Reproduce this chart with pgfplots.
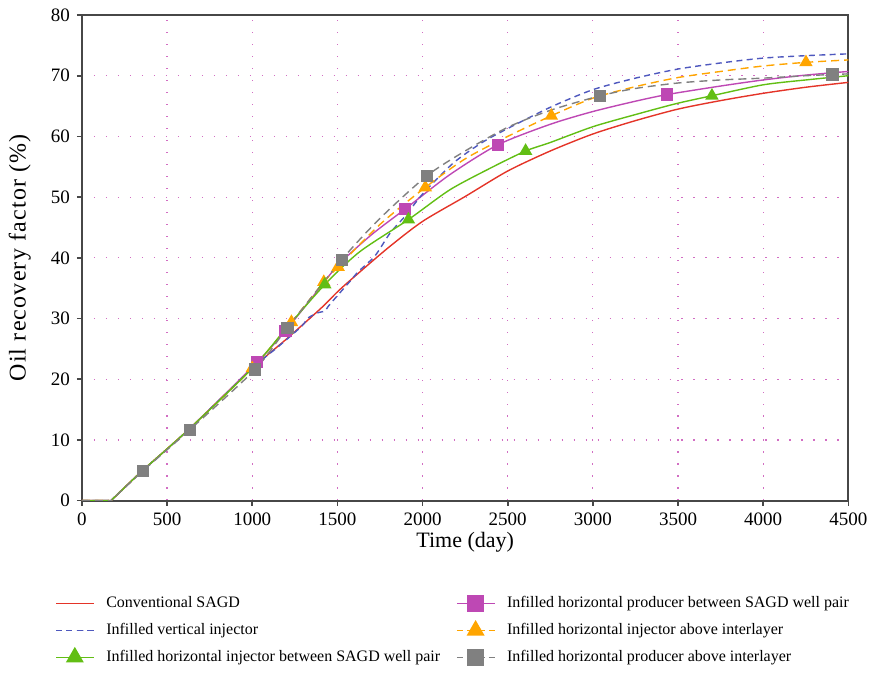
\documentclass[border=0pt]{standalone}
\usepackage{fontspec}
\setmainfont{Liberation Serif}
\usepackage{pgfplots}
\pgfplotsset{compat=1.18}
\definecolor{cred}{RGB}{228,52,40}
\definecolor{cblue}{RGB}{78,88,190}
\definecolor{cgreen}{RGB}{98,190,20}
\definecolor{cpurple}{RGB}{190,72,180}
\definecolor{corange}{RGB}{255,165,0}
\definecolor{cgray}{RGB}{128,128,128}
\definecolor{cgrid}{RGB}{210,110,195}
\begin{document}
\begin{tikzpicture}
\begin{axis}[
  scale only axis, width=383.5pt, height=243pt,
  xmin=0, xmax=4500, ymin=0, ymax=80,
  xtick={0,500,...,4500}, ytick={0,10,...,80},
  /pgf/number format/assume math mode=true,
  /pgf/number format/set thousands separator={},
  tick label style={font=\fontsize{9.5}{11}\selectfont},
  xlabel={Time (day)},
  ylabel={\addfontfeature{LetterSpace=5}Oil recovery factor (\%)},
  xlabel style={font=\fontsize{11}{13}\selectfont, at={(axis description cs:0.5,-0.085)}, anchor=center},
  ylabel style={font=\fontsize{12}{14}\selectfont, at={(axis description cs:-0.081,0.5)}, anchor=center},
  tick align=outside, xtick pos=left, ytick pos=left,
  major tick length=2.5pt,
  axis line style={line width=1pt, black!72},
  every tick/.style={black!72, line width=0.8pt},
  grid=major,
  major grid style={cgrid, line width=0.6pt, dash pattern=on 0.6pt off 5.4pt},
  legend columns=2,
  legend cell align=left,
  legend style={draw=none, fill=none, font=\fontsize{8}{9.5}\selectfont,
    at={(-0.043,-0.18)}, anchor=north west,
    /tikz/every odd column/.append style={column sep=4pt},
    /tikz/every even column/.append style={column sep=6pt},
    row sep=2.3pt},
  legend image code/.code={\draw[mark repeat=2,mark phase=2] plot coordinates {(0cm,0cm)(0.33cm,0cm)(0.66cm,0cm)};},
  every axis plot/.append style={line width=0.7pt, smooth, tension=0.45},
]
\addlegendimage{cred, line width=0.7pt}
\addlegendentry{Conventional SAGD}
\addlegendimage{cpurple, line width=0.7pt, mark=square*, mark size=4pt}
\addlegendentry{Infilled horizontal producer between SAGD well pair}
\addlegendimage{cblue, line width=0.7pt, dash pattern=on 3pt off 2.2pt}
\addlegendentry{Infilled vertical injector}
\addlegendimage{corange, line width=0.7pt, dash pattern=on 3pt off 2.3pt, mark=triangle*, mark size=4.5pt, mark options={solid}}
\addlegendentry{Infilled horizontal injector above interlayer}
\addlegendimage{cgreen, line width=0.7pt, mark=triangle*, mark size=4.5pt}
\addlegendentry{Infilled horizontal injector between SAGD well pair}
\addlegendimage{cgray, line width=0.7pt, dash pattern=on 3pt off 2.3pt, mark=square*, mark size=4pt, mark options={solid}}
\addlegendentry{Infilled horizontal producer above interlayer}
% Conventional SAGD
\addplot[cred, no marks, forget plot] coordinates {
(0,0)(160,0)(170,0)(350,4.8)(630,11.8)(1000,21.8)(1200,26.6)(1400,31.6)(1504,34.5)(1600,36.9)(1800,41.7)(2000,46.0)(2250,50.1)(2500,54.3)(2750,57.6)(3000,60.4)(3250,62.6)(3500,64.5)(3750,65.9)(4000,67.1)(4250,68.1)(4500,68.9)};
% Infilled horizontal producer between SAGD well pair
\addplot[cpurple, mark=square*, mark size=2.7pt, forget plot, mark indices={6,7,11,13,17}] coordinates {
(0,0)(160,0)(170,0)(350,4.8)(630,11.8)(1029,22.8)(1195,28.0)(1350,33.4)(1504,38.8)(1700,43.8)(1896,48.0)(2160,53.7)(2441,58.6)(2750,62.0)(3000,64.1)(3250,65.8)(3437,66.9)(3750,68.3)(4000,69.3)(4250,70.1)(4500,70.7)};
% Infilled vertical injector
\addplot[cblue, dash pattern=on 3pt off 2.2pt, no marks, forget plot] coordinates {
(0,0)(160,0)(170,0)(350,4.8)(630,11.8)(1000,21.8)(1150,25.3)(1289,28.7)(1328,30.1)(1390,31.0)(1426,31.2)(1446,32.0)(1504,33.9)(1573,36.1)(1622,37.7)(1720,40.3)(1810,44.1)(1905,47.1)(2000,50.5)(2180,55.6)(2350,59.0)(2500,61.3)(2750,64.8)(3000,67.7)(3250,69.6)(3500,71.1)(3750,72.1)(4000,72.9)(4250,73.3)(4500,73.6)};
% Infilled horizontal injector above interlayer
\addplot[corange, dash pattern=on 4pt off 2.5pt, mark=triangle*, mark size=3.2pt, mark options={solid}, forget plot, mark indices={6,7,8,9,11,14,20}] coordinates {
(0,0)(160,0)(170,0)(350,4.8)(630,11.8)(1000,21.8)(1230,29.4)(1420,36.0)(1504,38.5)(1750,45.5)(2016,51.6)(2250,56.3)(2500,60.0)(2756,63.4)(3000,66.3)(3250,68.2)(3500,69.7)(3750,70.7)(4000,71.6)(4251,72.2)(4500,72.6)};
% Infilled horizontal injector between SAGD well pair
\addplot[cgreen, mark=triangle*, mark size=3.2pt, forget plot, mark indices={8,10,13,18}] coordinates {
(0,0)(160,0)(170,0)(350,4.8)(630,11.8)(1000,21.8)(1200,28.4)(1426,35.6)(1631,41.0)(1917,46.3)(2160,51.2)(2400,54.8)(2605,57.6)(2750,59.0)(3000,61.6)(3250,63.6)(3489,65.4)(3699,66.7)(4000,68.5)(4250,69.3)(4500,70.0)};
% Infilled horizontal producer above interlayer
\addplot[cgray, dash pattern=on 4pt off 2.5pt, mark=square*, mark size=2.7pt, mark options={solid}, forget plot, mark indices={4,5,6,7,8,10,14,20}] coordinates {
(0,0)(160,0)(170,0)(358,4.9)(634,11.7)(1016,21.6)(1207,28.5)(1526,39.7)(1750,46.5)(2025,53.5)(2250,57.6)(2500,61.5)(2750,64.3)(3044,66.7)(3250,67.9)(3500,68.8)(3750,69.3)(4000,69.6)(4250,70.0)(4407,70.2)(4500,70.3)};
\coordinate (bl) at (rel axis cs:-0.1069,-0.3457);
\coordinate (tr) at (rel axis cs:1.0326,1.0309);
\end{axis}
\path (bl) rectangle (tr);
\end{tikzpicture}
\end{document}
